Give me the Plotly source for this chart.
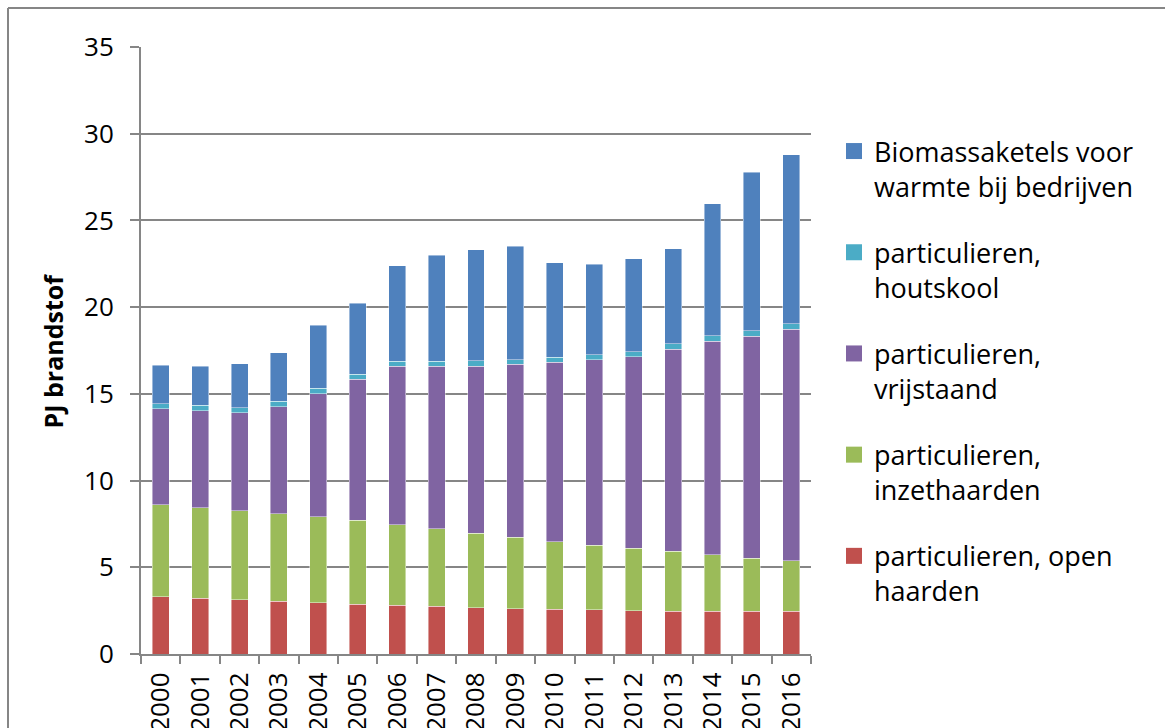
import plotly.graph_objects as go

years = [str(y) for y in range(2000, 2017)]

open_haarden = [3.29, 3.21, 3.12, 3.04, 2.96, 2.87, 2.81, 2.75, 2.66, 2.62, 2.58, 2.54, 2.50, 2.47, 2.47, 2.47, 2.47]
inzethaarden = [5.33, 5.23, 5.15, 5.06, 4.96, 4.84, 4.65, 4.48, 4.31, 4.10, 3.89, 3.74, 3.59, 3.45, 3.25, 3.06, 2.91]
vrijstaand = [5.51, 5.60, 5.65, 6.17, 7.10, 8.14, 9.14, 9.35, 9.62, 9.98, 10.35, 10.68, 11.04, 11.65, 12.31, 12.79, 13.35]
houtskool = [0.29, 0.29, 0.29, 0.29, 0.29, 0.28, 0.28, 0.29, 0.32, 0.28, 0.30, 0.30, 0.30, 0.31, 0.32, 0.32, 0.31]
biomassaketels = [2.23, 2.25, 2.52, 2.81, 3.65, 4.09, 5.50, 6.13, 6.39, 6.52, 5.45, 5.21, 5.35, 5.49, 7.61, 9.13, 9.74]

series_names = [
    "particulieren, open<br>haarden",
    "particulieren,<br>inzethaarden",
    "particulieren,<br>vrijstaand",
    "particulieren,<br>houtskool",
    "Biomassaketels voor<br>warmte bij bedrijven",
]
series_values = [open_haarden, inzethaarden, vrijstaand, houtskool, biomassaketels]
series_colors = ["#C0504D", "#9BBB59", "#8064A2", "#4BACC6", "#4F81BD"]

FONT = "Open Sans"
GRID = "#868686"

fig = go.Figure()
for name, vals, col in zip(series_names, series_values, series_colors):
    fig.add_trace(go.Bar(
        x=years, y=vals, name=name, marker_color=col,
        marker_line_width=0.8, marker_line_color="rgba(255,255,255,0.55)",
        showlegend=False,
    ))
# legend entries (square markers), top of stack first
for i, (name, col) in enumerate(zip(series_names[::-1], series_colors[::-1])):
    fig.add_trace(go.Scatter(
        x=[None], y=[None], mode="markers", name=name,
        marker=dict(symbol="square", size=16, color=col),
        legendgroup=f"g{i}", showlegend=True,
    ))

W, H = 1165, 728
L, R, T, B = 141, 354, 47, 74
pw = W - L - R
ph = H - T - B

fig.update_layout(
    width=W, height=H,
    margin=dict(l=L, r=R, t=T, b=B, pad=0, autoexpand=False),
    barmode="stack", bargap=0.57,
    plot_bgcolor="white", paper_bgcolor="white",
    font=dict(family=FONT, size=26, color="black"),
    legend=dict(
        x=(836 - 141) / pw - 0.003, xanchor="left",
        y=(654 - 127) / ph, yanchor="top",
        traceorder="grouped", tracegroupgap=28,
        valign="top", font=dict(family=FONT, size=27, color="black"),
        bgcolor="rgba(0,0,0,0)", itemclick=False,
    ),
    xaxis=dict(
        type="category", tickangle=-90, ticks="outside", tickson="boundaries",
        ticklen=8, tickwidth=2, tickcolor=GRID, showline=True, linecolor=GRID,
        linewidth=2, showgrid=False, ticklabelstandoff=6, automargin=False,
        tickfont=dict(family=FONT, size=26, color="black"),
    ),
    yaxis=dict(
        range=[0, 35], dtick=5, tick0=0, ticks="outside", ticklen=9, tickwidth=2,
        tickcolor=GRID, showline=True, linecolor=GRID, linewidth=2,
        showgrid=True, gridcolor=GRID, gridwidth=2, zeroline=False,
        ticklabelstandoff=11, automargin=False,
        tickfont=dict(family=FONT, size=26, color="black"),
    ),
    annotations=[dict(
        text="<b>PJ brandstof</b>", textangle=-90, xref="paper", yref="paper",
        x=(52 - L) / pw, y=0.5, xanchor="center", yanchor="middle",
        showarrow=False, font=dict(family=FONT, size=25, color="black"),
    )],
    shapes=[
        dict(type="line", xref="paper", yref="paper", x0=(8 - L) / pw, x1=(8 - L) / pw,
             y0=-B / ph - 0.1, y1=1 + (T - 8) / ph, line=dict(color=GRID, width=2)),
        dict(type="line", xref="paper", yref="paper", x0=(8 - L) / pw, x1=1 + R / pw + 0.1,
             y0=1 + (T - 8) / ph, y1=1 + (T - 8) / ph, line=dict(color=GRID, width=2)),
    ],
)

fig.write_html(
    "out.html",
    config={"displayModeBar": False},
    post_script="document.body.style.margin='0';document.body.style.overflow='hidden';",
)
